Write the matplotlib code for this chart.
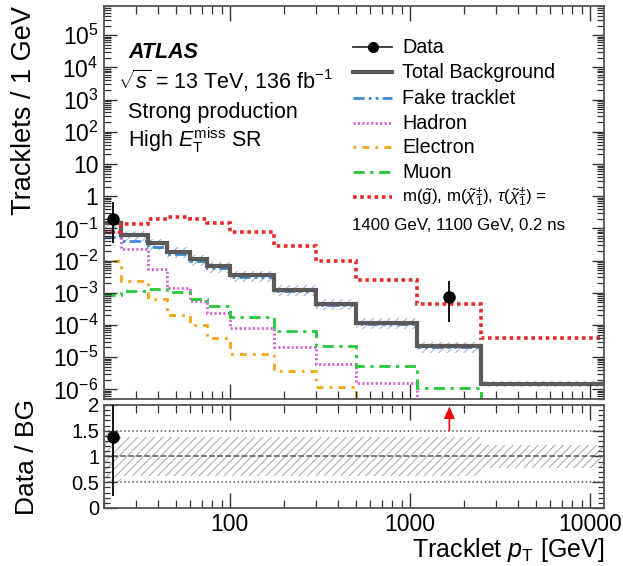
import matplotlib
matplotlib.use('Agg')
import matplotlib.pyplot as plt
from matplotlib.ticker import LogLocator, FuncFormatter, MultipleLocator, NullFormatter, FixedLocator
import numpy as np

plt.rcParams['font.family'] = ['Liberation Sans', 'DejaVu Sans']
plt.rcParams['mathtext.fontset'] = 'custom'
plt.rcParams['mathtext.rm'] = 'Liberation Sans'
plt.rcParams['mathtext.it'] = 'Liberation Sans:italic'
plt.rcParams['mathtext.bf'] = 'Liberation Sans:bold'
plt.rcParams['hatch.linewidth'] = 0.8

# bin edges of tracklet pT [GeV]
edges = [20, 25, 35, 45, 60, 75, 100, 175, 300, 500, 1100, 2500, 12000]

# tracklets / 1 GeV
total = [0.145, 0.062, 0.034, 0.0188, 0.0112, 0.0067, 0.0035, 1.25e-3, 4.6e-4, 1.18e-4, 2.2e-5, 1.5e-6]
fake = [0.055, 0.040, 0.027, 0.016, 0.0099, 0.0060, 0.0032, 1.16e-3, 4.3e-4, 1.1e-4, 2.1e-5, 1.45e-6]
hadron = [0.08, 0.0234, 0.0053, 1.44e-3, 5.5e-4, 2.35e-4, 7.9e-5, 2.1e-5, 6.2e-6, 1.6e-6, 0, 0]
electron = [0.010, 0.0023, 6.4e-4, 2.1e-4, 1.0e-4, 3.8e-5, 1.28e-5, 3.6e-6, 1.2e-6, 0, 0, 0]
muon = [8.5e-4, 1.15e-3, 1.28e-3, 1.07e-3, 6.4e-4, 4.0e-4, 1.8e-4, 6.5e-5, 2.2e-5, 5.5e-6, 1.14e-6, 0]
signal = [0.08, 0.134, 0.196, 0.222, 0.196, 0.151, 0.0787, 0.0281, 0.0100, 2.46e-3, 4.5e-4, 4.0e-5]
bg_unc = [0.5, 0.38, 0.38, 0.38, 0.38, 0.38, 0.38, 0.38, 0.38, 0.38, 0.38, 0.22]  # relative

# observed tracklets per bin, with poisson errors (n=1: -0.827 +2.300)
data_counts = [1, 0, 0, 0, 0, 0, 0, 0, 0, 0, 1, 0]
poisson_lo = {1: 0.827}
poisson_hi = {1: 2.300}

c_total = '#5a5a5a'
c_fake = '#3f88d8'
c_had = '#d656d6'
c_ele = '#f2a516'
c_mu = '#24c83a'
c_sig = '#e42a2a'

edges = np.array(edges, dtype=float)
width = np.diff(edges)
centers = np.sqrt(edges[:-1] * edges[1:])
total = np.array(total)
unc = np.array(bg_unc)


def nz(v):
    v = np.array(v, dtype=float)
    return np.where(v > 0, v, 1e-12)


fig = plt.figure(figsize=(6.23, 5.66), dpi=100)
ax = fig.add_axes([0.167, 0.295, 0.8026, 0.694])
ax2 = fig.add_axes([0.167, 0.1025, 0.8026, 0.182], sharex=ax)

# main panel
ax.stairs(total * (1 + unc), edges, baseline=total * (1 - unc), fill=True,
          facecolor='none', edgecolor='#9db8d4', hatch='////', lw=0)
ax.stairs(nz(fake), edges, baseline=None, color=c_fake, lw=2, linestyle=(0, (4, 1.5, 1, 1.5, 1, 1.5)))
ax.stairs(nz(hadron), edges, baseline=None, color=c_had, lw=2, linestyle=(0, (0.7, 0.9)))
ax.stairs(nz(electron), edges, baseline=None, color=c_ele, lw=2, linestyle=(0, (1, 2.2, 2.5, 2.2)))
ax.stairs(nz(muon), edges, baseline=None, color=c_mu, lw=2, linestyle=(0, (4, 2, 1.2, 2)))
ax.stairs(total, edges, baseline=None, color=c_total, lw=3)
ax.stairs(signal, edges, baseline=None, color=c_sig, lw=2.6, linestyle=(0, (1, 1)))

counts = np.array(data_counts, dtype=float)
dens = counts / width
sel = counts > 0
lo = np.array([poisson_lo.get(n, 0) for n in data_counts]) / width
hi = np.array([poisson_hi.get(n, 0) for n in data_counts]) / width
ax.errorbar(centers[sel], dens[sel], yerr=[lo[sel], hi[sel]], fmt='o', color='black',
            ms=8, elinewidth=1.3, capsize=0, zorder=5)

ax.set_xscale('log')
ax.set_yscale('log')
ax.set_xlim(20, 12000)
ax.set_ylim(5e-7, 8e5)


def ylab(v, pos):
    if v == 1:
        return '1'
    if v == 10:
        return '10'
    return r'$10^{%d}$' % round(np.log10(v))


ax.yaxis.set_major_locator(LogLocator(base=10, numticks=20))
ax.yaxis.set_minor_locator(LogLocator(base=10, subs=np.arange(2, 10), numticks=20))
ax.yaxis.set_major_formatter(FuncFormatter(ylab))
ax.yaxis.set_minor_formatter(NullFormatter())
ax.set_ylabel('Tracklets / 1 GeV', fontsize=19.5, loc='top')
ax.yaxis.set_label_coords(-0.135, 1.0)
plt.setp(ax.get_xticklabels(), visible=False)

# text
ax.text(0.048, 0.868, 'ATLAS', transform=ax.transAxes, fontsize=15.5,
        fontweight='bold', fontstyle='italic', va='baseline')
ax.text(0.028, 0.789, r'$\sqrt{s}$ = 13 TeV, 136 fb$^{-1}$', transform=ax.transAxes,
        fontsize=15.5, va='baseline')
ax.text(0.048, 0.715, 'Strong production', transform=ax.transAxes, fontsize=15.5, va='baseline')
ax.text(0.048, 0.641, r'High $E_{\mathrm{T}}^{\mathrm{miss}}$ SR', transform=ax.transAxes,
        fontsize=15.5, va='baseline')

# legend, drawn by hand
leg = [
    ('Data', 14.2, dict(color='#333333', lw=1.3, marker='o', ms=7, markevery=[1], mfc='black', mec='black')),
    ('Total Background', 14.2, dict(color=c_total, lw=3)),
    ('Fake tracklet', 14.2, dict(color=c_fake, lw=2, linestyle=(0, (4, 1.5, 1, 1.5, 1, 1.5)))),
    ('Hadron', 14.2, dict(color=c_had, lw=2, linestyle=(0, (0.7, 0.9)))),
    ('Electron', 14.2, dict(color=c_ele, lw=2, linestyle=(0, (1, 2.2, 2.5, 2.2)))),
    ('Muon', 14.2, dict(color=c_mu, lw=2, linestyle=(0, (4, 2, 1.2, 2)))),
    (r'm($\tilde{\mathrm{g}}$), m($\tilde{\chi}_{1}^{\pm}$), $\tau$($\tilde{\chi}_{1}^{\pm}$) =', 12.2,
     dict(color=c_sig, lw=2.6, linestyle=(0, (1, 1)))),
]
row_px = [47, 72, 98, 123, 147, 172, 197]
for (label, fs, style), ypx in zip(leg, row_px):
    y = (399 - ypx) / 393
    ax.plot([0.498, 0.537, 0.576], [y, y, y], transform=ax.transAxes, clip_on=False, **style)
    ax.text(0.596, y, label, transform=ax.transAxes, fontsize=fs, va='center')
ax.text(0.496, (399 - 225) / 393, '1400 GeV, 1100 GeV, 0.2 ns', transform=ax.transAxes,
        fontsize=12.2, va='center')

# ratio panel
ax2.stairs(1 + unc, edges, baseline=1 - unc, fill=True, facecolor='none',
           edgecolor='#b0b0b0', hatch='////', lw=0)
for yl, ls in [(0.5, ':'), (1.5, ':'), (1.0, '--')]:
    ax2.axhline(yl, color='#555555', lw=1.1, linestyle=ls)
ratio = dens / total
rlo = lo / total
rhi = hi / total
inr = sel & (ratio <= 2)
ax2.errorbar(centers[inr], ratio[inr], yerr=[rlo[inr], rhi[inr]], fmt='o', color='black',
             ms=8, elinewidth=1.3, capsize=0, zorder=5)
for xc in centers[sel & (ratio > 2)]:
    ax2.annotate('', xy=(xc, 1.97), xytext=(xc, 1.5),
                 arrowprops=dict(color='red', width=1.2, headwidth=8, headlength=9, lw=0))
ax2.set_ylim(0, 2)
ax2.yaxis.set_major_locator(MultipleLocator(0.5))
ax2.yaxis.set_minor_locator(MultipleLocator(0.1))
ax2.yaxis.set_major_formatter(FuncFormatter(lambda v, p: '%g' % v))
ax2.xaxis.set_major_locator(FixedLocator([100, 1000, 10000]))
ax2.xaxis.set_minor_locator(LogLocator(base=10, subs=np.arange(2, 10), numticks=20))
ax2.xaxis.set_major_formatter(FuncFormatter(lambda v, p: '%d' % v))
ax2.xaxis.set_minor_formatter(NullFormatter())
ax2.set_ylabel('Data / BG', fontsize=19)
ax2.yaxis.set_label_coords(-0.13, 0.5)
ax2.set_xlabel(r'Tracklet $p_{\mathrm{T}}$ [GeV]', fontsize=18, loc='right')
ax2.xaxis.set_label_coords(1.0, -0.27)

ax.xaxis.set_major_locator(FixedLocator([100, 1000, 10000]))
ax.xaxis.set_minor_locator(LogLocator(base=10, subs=np.arange(2, 10), numticks=20))

for a in (ax, ax2):
    a.tick_params(which='both', direction='in', top=True, right=True, colors='#333333',
                  labelcolor='black', labelsize=16.5)
    a.tick_params(which='major', length=11, width=1)
    a.tick_params(which='minor', length=5.5, width=0.9)
    for s in a.spines.values():
        s.set_color('#555555')
        s.set_linewidth(1.3)
ax.tick_params(axis='y', which='major', length=9, pad=4)
ax.tick_params(axis='y', which='minor', length=5)
ax2.tick_params(axis='y', which='major', length=9, labelsize=14.5)
ax2.tick_params(axis='y', which='minor', length=4.5)

fig.savefig('out.png', dpi=100)
